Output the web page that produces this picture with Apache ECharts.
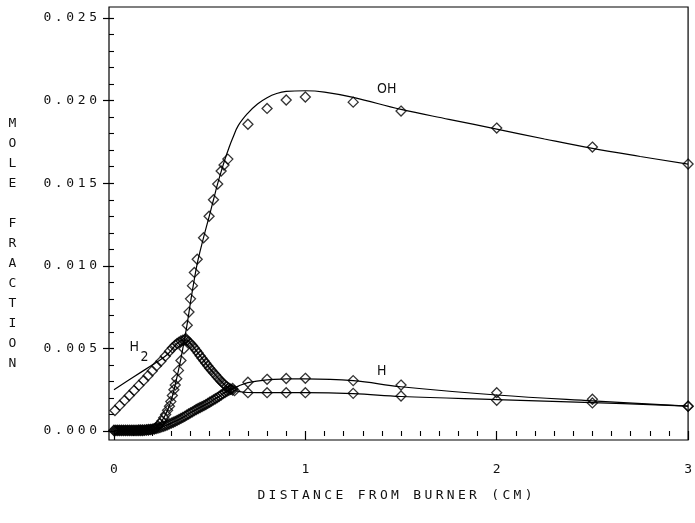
<!DOCTYPE html>
<html><head><meta charset="utf-8">
<script src="https://cdn.jsdelivr.net/npm/echarts@6/dist/echarts.min.js"></script>
<style>html,body{margin:0;padding:0;background:#fff}#c{width:695px;height:523px}</style>
</head><body><div id="c"></div><script>
// ---- tick labels ----
const xTicks = [0, 1, 2, 3];
const xTickLabels = ['0', '1', '2', '3'];
const yTicks = [0, 0.005, 0.010, 0.015, 0.020, 0.025];
const yTickLabels = ['0.000', '0.005', '0.010', '0.015', '0.020', '0.025'];
const xTitle = 'DISTANCE FROM BURNER (CM)';
const yTitle = ['M','O','L','E','','F','R','A','C','T','I','O','N'];

// ---- OH: measured points and model curve ----
const ohObs = [
[0.00,0.00002],[0.01,0.00002],[0.02,0.00002],[0.03,0.00002],[0.04,0.00002],[0.05,0.00002],[0.06,0.00002],
[0.07,0.00002],[0.08,0.00002],[0.09,0.00002],[0.10,0.00002],[0.11,0.00002],[0.12,0.00002],[0.13,0.00003],
[0.14,0.00003],[0.15,0.00003],[0.16,0.00004],[0.17,0.00005],[0.18,0.00006],[0.19,0.00008],[0.20,0.0001],
[0.21,0.00014],[0.22,0.0002],[0.23,0.0003],[0.24,0.00045],[0.25,0.0006],[0.26,0.0008],[0.27,0.001],
[0.28,0.00125],[0.29,0.0015],[0.297,0.00178],[0.305,0.00215],[0.313,0.0025],[0.32,0.00278],[0.328,0.00316],
[0.337,0.00367],[0.35,0.00427],[0.365,0.00498],[0.375,0.0056],[0.383,0.0064],[0.392,0.0072],[0.40,0.0080],
[0.41,0.0088],[0.42,0.0096],[0.435,0.0104],[0.468,0.0117],[0.497,0.0130],[0.52,0.0140],[0.542,0.01495],
[0.56,0.01574],[0.575,0.0161],[0.595,0.01646],[0.7,0.01857],[0.8,0.01953],[0.9,0.02004],[1.0,0.02022],
[1.25,0.01991],[1.5,0.01937],[2.0,0.01834],[2.5,0.01719],[3.0,0.01616]
];
const ohModel = [
[0,0],[0.1,0],[0.2,0.00005],[0.22,0.0002],[0.25,0.0006],[0.28,0.00125],[0.3,0.0019],[0.32,0.0028],
[0.35,0.0044],[0.38,0.0063],[0.4,0.0078],[0.42,0.0092],[0.44,0.0104],[0.47,0.0118],[0.5,0.0131],
[0.52,0.0140],[0.54,0.0149],[0.56,0.0157],[0.58,0.01645],[0.6,0.01712],[0.62,0.01772],[0.65,0.0185],
[0.7,0.01925],[0.75,0.0198],[0.8,0.02018],[0.85,0.02043],[0.9,0.02056],[1.0,0.0206],[1.1,0.02052],
[1.25,0.0202],[1.5,0.01947],[1.75,0.01887],[2.0,0.01828],[2.25,0.01768],[2.5,0.01711],[2.75,0.01662],[3.0,0.01616]
];

// ---- H: measured points and model curve ----
const hObs = [
[0.00,0.00005],[0.01,0.00005],[0.02,0.00005],[0.03,0.00005],[0.04,0.00005],[0.05,0.00005],[0.06,0.00005],
[0.07,0.00005],[0.08,0.00005],[0.09,0.00005],[0.10,0.00005],[0.11,0.00005],[0.12,0.00005],[0.13,0.00006],
[0.14,0.00006],[0.15,0.00006],[0.16,0.00007],[0.17,0.00008],[0.18,0.00009],[0.19,0.0001],[0.20,0.00011],
[0.21,0.00012],[0.22,0.00014],[0.23,0.00017],[0.24,0.00021],[0.25,0.00025],[0.26,0.00029],[0.27,0.00033],
[0.28,0.00038],[0.29,0.00043],[0.30,0.00048],[0.31,0.00053],[0.32,0.00058],[0.33,0.00064],[0.34,0.0007],
[0.35,0.00076],[0.36,0.00082],[0.37,0.00089],[0.38,0.00096],[0.39,0.00103],[0.40,0.0011],[0.41,0.00116],
[0.42,0.00123],[0.43,0.0013],[0.44,0.00136],[0.45,0.00142],[0.46,0.00148],[0.47,0.00154],[0.48,0.0016],
[0.49,0.00167],[0.50,0.00174],[0.51,0.00181],[0.52,0.00188],[0.53,0.00195],[0.54,0.00202],[0.55,0.0021],
[0.56,0.00218],[0.57,0.00226],[0.58,0.00233],[0.59,0.0024],[0.60,0.00246],[0.61,0.00252],[0.62,0.00258],
[0.7,0.00295],[0.8,0.00313],[0.9,0.00318],[1.0,0.00319],[1.25,0.00305],[1.5,0.00278],[2.0,0.00232],
[2.5,0.00192],[3.0,0.00151]
];
const hModel = [
[0,0.00003],[0.2,0.0001],[0.25,0.00025],[0.3,0.00048],[0.35,0.00076],[0.4,0.0011],[0.45,0.00142],
[0.5,0.00174],[0.55,0.0021],[0.6,0.00246],[0.65,0.00272],[0.7,0.00293],[0.8,0.0031],[0.9,0.00315],
[1.0,0.00316],[1.25,0.00305],[1.5,0.00268],[2.0,0.00218],[2.5,0.00182],[3.0,0.0015]
];

// ---- H2: measured points and model curve ----
const h2Obs = [
[0.005,0.00124],[0.03,0.00155],[0.055,0.00185],[0.08,0.00215],[0.105,0.00245],[0.13,0.00276],[0.155,0.00306],
[0.178,0.00335],[0.2,0.00364],[0.222,0.00394],[0.245,0.00422],[0.268,0.00453],[0.29,0.00483],[0.305,0.00503],
[0.32,0.0052],[0.33,0.0053],[0.34,0.00538],[0.35,0.00545],[0.36,0.0055],[0.37,0.00552],[0.38,0.00549],
[0.39,0.00541],[0.40,0.0053],[0.41,0.00517],[0.42,0.00503],[0.43,0.00488],[0.44,0.00472],[0.45,0.00456],
[0.46,0.0044],[0.47,0.00425],[0.48,0.0041],[0.49,0.00395],[0.50,0.0038],[0.51,0.00367],[0.52,0.00353],
[0.53,0.0034],[0.54,0.00326],[0.55,0.00313],[0.56,0.003],[0.57,0.00289],[0.58,0.00278],[0.59,0.00268],
[0.60,0.0026],[0.61,0.00253],[0.62,0.00248],[0.63,0.00244],[0.7,0.00232],[0.8,0.00232],[0.9,0.00232],
[1.0,0.00232],[1.25,0.00228],[1.5,0.00212],[2.0,0.00186],[2.5,0.0017],[3.0,0.00149]
];
const h2Model = [
[0,0.0025],[0.1,0.00325],[0.2,0.004],[0.25,0.00438],[0.28,0.00465],
[0.3,0.0049],[0.33,0.0053],[0.36,0.0055],[0.38,0.0055],[0.4,0.0053],[0.45,0.00456],[0.5,0.0038],
[0.55,0.00313],[0.6,0.0026],[0.65,0.0024],[0.7,0.00233],[0.8,0.00232],[1.0,0.00232],[1.25,0.00226],
[1.5,0.00209],[2.0,0.0019],[2.5,0.00172],[3.0,0.0015]
];

// ---- curve labels (anchored in data coordinates) ----
const curveLabels = [
  {text: 'OH', x: 1.425, y: 0.0207, size: 14},
  {text: 'H',  x: 1.399, y: 0.00363, size: 14},
  {text: 'H',  x: 0.106, y: 0.00508, size: 14},
  {text: '2',  x: 0.160, y: 0.00448, size: 14}
];

// ---------------------------------------------------------------
const MONO = "'DejaVu Sans Mono', 'Liberation Mono', monospace";
const NARROW = "'Liberation Sans Narrow', 'DejaVu Sans Condensed', 'DejaVu Sans', sans-serif";
const INK = '#111';
function spaced(s) { return s.split('').map(c => c === ' ' ? '{w| }' : c).join('{s| }'); }

const xMinor = [], yMinor = [];
for (let i = 0; i <= 30; i++) if (i % 10) xMinor.push(i / 10);
for (let i = 0; i <= 25; i++) if (i % 5) yMinor.push(i / 1000);

const X_MIN = -0.026, X_MAX = 3.0, Y_MIN = -0.000545, Y_MAX = 0.02567;

const chart = echarts.init(document.getElementById('c'), null, {renderer: 'canvas'});

const markerStyle = {color: 'rgba(255,255,255,0)', borderColor: '#000', borderWidth: 1.3};
function obsSeries(data) {
  return {type: 'scatter', data, symbol: 'diamond', symbolSize: 10, itemStyle: markerStyle,
          xAxisIndex: 0, yAxisIndex: 0, silent: true, z: 3};
}
function modelSeries(data) {
  return {type: 'line', data, symbol: 'none', showSymbol: false, smooth: 0.4,
          lineStyle: {color: '#000', width: 1.2}, xAxisIndex: 0, yAxisIndex: 0, silent: true, z: 2};
}

chart.setOption({
  animation: false,
  backgroundColor: '#fff',
  grid: {left: 109, right: 1, top: 7, bottom: 83, show: true, borderColor: '#000', borderWidth: 1.2},
  xAxis: [
    {type: 'value', min: X_MIN, max: X_MAX, position: 'bottom',
     axisLine: {show: false}, splitLine: {show: false},
     axisTick: {show: true, customValues: xTicks, length: 9, lineStyle: {color: '#000', width: 1.2}},
     axisLabel: {customValues: xTicks, margin: 23, fontFamily: MONO, fontSize: 13, color: INK,
                 formatter: v => xTickLabels[xTicks.indexOf(v)] ?? ''}},
    {type: 'value', min: X_MIN, max: X_MAX, position: 'bottom',
     axisLine: {show: false}, splitLine: {show: false},
     axisTick: {show: true, customValues: xMinor, length: 5, lineStyle: {color: '#000', width: 1.1}},
     axisLabel: {show: false}}
  ],
  yAxis: [
    {type: 'value', min: Y_MIN, max: Y_MAX, position: 'left',
     axisLine: {show: false}, splitLine: {show: false},
     axisTick: {show: true, customValues: yTicks, length: 11, lineStyle: {color: '#000', width: 1.2}},
     axisLabel: {customValues: yTicks, margin: 12, fontFamily: MONO, fontSize: 13, color: INK,
                 formatter: v => {
                   let k = yTicks.findIndex(t => Math.abs(t - v) < 1e-9);
                   return k < 0 ? '' : spaced(yTickLabels[k]);
                 },
                 rich: {s: {fontSize: 6, fontFamily: MONO}}}},
    {type: 'value', min: Y_MIN, max: Y_MAX, position: 'left',
     axisLine: {show: false}, splitLine: {show: false},
     axisTick: {show: true, customValues: yMinor, length: 5, lineStyle: {color: '#000', width: 1.1}},
     axisLabel: {show: false}}
  ],
  series: [
    modelSeries(ohModel), obsSeries(ohObs),
    modelSeries(hModel), obsSeries(hObs),
    modelSeries(h2Model), obsSeries(h2Obs)
  ]
});

const gfx = [];
curveLabels.forEach(l => {
  const p = chart.convertToPixel({xAxisIndex: 0, yAxisIndex: 0}, [l.x, l.y]);
  gfx.push({type: 'text', x: p[0], y: p[1], silent: true,
            style: {text: l.text, font: l.size + 'px ' + NARROW, fill: INK,
                    textAlign: 'center', textVerticalAlign: 'middle', align: 'center', verticalAlign: 'middle'}});
});
gfx.push({type: 'text', x: 395, y: 496, silent: true,
          style: {text: spaced(xTitle), font: '13px ' + MONO, fill: INK,
                  rich: {s: {fontSize: 5.5, fontFamily: MONO}, w: {fontSize: 13, fontFamily: MONO}},
                  textAlign: 'center', textVerticalAlign: 'middle', align: 'center', verticalAlign: 'middle'}});
gfx.push({type: 'text', x: 12.5, y: 114, silent: true,
          style: {text: yTitle.join('\n'), font: '13px ' + MONO, fill: INK, lineHeight: 20,
                  textAlign: 'center', textVerticalAlign: 'top', align: 'center', verticalAlign: 'top'}});
chart.setOption({graphic: {elements: gfx}});
</script></body></html>
